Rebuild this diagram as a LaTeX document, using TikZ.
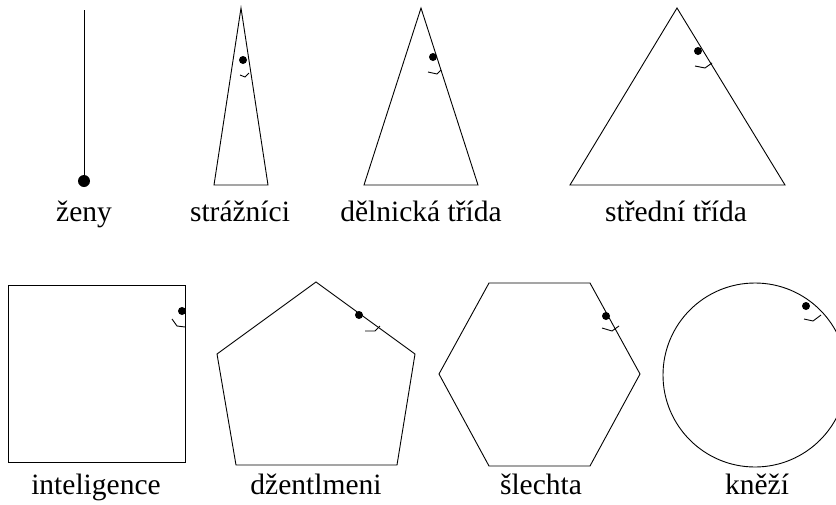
\documentclass[tikz,border=0pt]{standalone}
\usepackage{fontspec}
\setmainfont{Liberation Serif}
\usepackage{tikz}
\usetikzlibrary{positioning}

\begin{document}
\begin{tikzpicture}[x=1pt,y=-1pt,line width=0.9pt,line join=miter,
        lbl/.style={anchor=base,inner sep=0pt,font=\fontsize{29.5}{34}\selectfont},
        mouth/.style={line width=0.9pt}]
        \useasboundingbox (0,0) rectangle (836,504);

        % First row: the line and the triangles
        \draw (84,10) -- (84,180);
        \fill (84,181) circle (6pt);

        \draw (241,8) -- (268,185) -- (214,185) -- cycle;
        \fill (243,60) circle (4pt);
        \draw[mouth] (240,75) -- (245,77) -- (249,73);

        \draw (421,8) -- (478,185) -- (364,185) -- cycle;
        \fill (433,57) circle (4pt);
        \draw[mouth] (428,72) -- (437,74) -- (441,70);

        \draw (677,8) -- (785,185) -- (570,185) -- cycle;
        \fill (698,51) circle (4pt);
        \draw[mouth] (695,66) -- (705,68) -- (712,63);

        % Labels of the first row
        \node[lbl] (zeny) at (84,221) {ženy};
        \node[lbl] (straz) at (240,221) {strážníci};
        \node[lbl] (delnik) at (421,221) {dělnická třída};
        \node[lbl] (stred) at (676,221) {střední třída};

        % Second row: square, pentagon, hexagon and circle
        \draw (8,285) rectangle (185,462);
        \fill (182,311) circle (4pt);
        \draw[mouth] (172,319) -- (177,326) -- (185,327);

        \draw (316,282) -- (415,354) -- (397,465) -- (236,465) -- (217,354) -- cycle;
        \fill (359,315) circle (4pt);
        \draw[mouth] (365,331) -- (375,331) -- (380,326);

        \draw (439,374) -- (489,283) -- (590,283) -- (640,374) -- (590,466) -- (489,466) -- cycle;
        \fill (606,316) circle (4pt);
        \draw[mouth] (602,328) -- (612,331) -- (619,326);

        \draw (755,375) circle (92pt);
        \fill (806,306) circle (4pt);
        \draw[mouth] (804,319) -- (813,321) -- (821,315);

        % Labels of the second row
        \node[lbl] (intel) at (96,494) {inteligence};
        \node[lbl] (dzent) at (316,494) {džentlmeni};
        \node[lbl] (slech) at (541,494) {šlechta};
        \node[lbl] (knezi) at (757,494) {kněží};
\end{tikzpicture}
\end{document}
